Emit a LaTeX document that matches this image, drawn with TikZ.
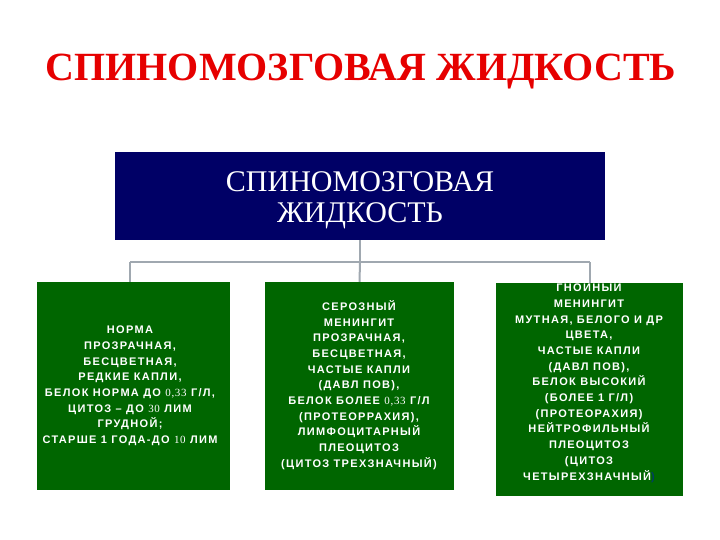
\documentclass[tikz,border=0pt]{standalone}
\usepackage{fontspec}
\setmainfont{Liberation Serif}
\setsansfont{Liberation Sans}
\newfontfamily\boxfont[LetterSpace=12]{Liberation Sans}
\newfontfamily\boxdigits[LetterSpace=6]{Liberation Serif}
\definecolor{titlered}{RGB}{230,0,0}
\definecolor{navy}{RGB}{0,0,102}
\definecolor{dgreen}{RGB}{0,102,0}
\definecolor{linegray}{RGB}{160,168,176}
\newcommand{\rmd}[1]{{\boxdigits\mdseries #1}}
\tikzset{
  greenbox/.style={draw=none, fill=dgreen, inner sep=0pt},
  boxtext/.style={text=white, align=center, inner sep=0pt,
    font=\boxfont\bfseries\fontsize{11}{15.7}\selectfont},
  conn/.style={draw=linegray, line width=2pt}
}
\begin{document}
\begin{tikzpicture}[x=1pt,y=-1pt]
\useasboundingbox (0,0) rectangle (720,540);
\node[text=titlered, font=\rmfamily\bfseries\fontsize{40}{44}\selectfont, inner sep=0pt] (title) at (361,72) {СПИНОМОЗГОВАЯ ЖИДКОСТЬ};
\node[fill=navy, minimum width=490pt, minimum height=88pt, inner sep=0pt] (top) at (360,196) {};
\node[text=white, align=center, inner sep=0pt, font=\rmfamily\fontsize{30}{31}\selectfont] (toptext) at (360,200) {СПИНОМОЗГОВАЯ\\ЖИДКОСТЬ};
\node[greenbox, minimum width=193pt, minimum height=208pt] (b1) at (133.5,386) {};
\node[greenbox, minimum width=189pt, minimum height=208pt] (b2) at (359.5,386) {};
\node[greenbox, minimum width=187pt, minimum height=213pt] (b3) at (589.5,389.5) {};
\coordinate (hub) at (360,262);
\draw[conn] (top.south) -- (hub);
\draw[conn] (130,262) -- (590,262);
\draw[conn] (130,262) -- (130,282);
\draw[conn] (hub) -- (b2.north);
\draw[conn] (590,262) -- (590,283);
\node[boxtext] (t1) at (130,386) {НОРМА\\ПРОЗРАЧНАЯ,\\БЕСЦВЕТНАЯ,\\РЕДКИЕ КАПЛИ,\\БЕЛОК НОРМА ДО \rmd{0,33} Г/Л,\\ЦИТОЗ – ДО \rmd{30} ЛИМ\\ГРУДНОЙ;\\СТАРШЕ 1 ГОДА-ДО \rmd{10} ЛИМ};
\node[boxtext] (t2) at (359,385) {СЕРОЗНЫЙ\\МЕНИНГИТ\\ПРОЗРАЧНАЯ,\\БЕСЦВЕТНАЯ,\\ЧАСТЫЕ КАПЛИ\\(ДАВЛ ПОВ),\\БЕЛОК БОЛЕЕ \rmd{0,33} Г/Л\\(ПРОТЕОРРАХИЯ),\\ЛИМФОЦИТАРНЫЙ\\ПЛЕОЦИТОЗ\\(ЦИТОЗ ТРЕХЗНАЧНЫЙ)};
\node[boxtext] (t3) at (589,382) {ГНОЙНЫЙ\\МЕНИНГИТ\\МУТНАЯ, БЕЛОГО И ДР\\ЦВЕТА,\\ЧАСТЫЕ КАПЛИ\\(ДАВЛ ПОВ),\\БЕЛОК ВЫСОКИЙ\\(БОЛЕЕ 1 Г/Л)\\(ПРОТЕОРАХИЯ)\\НЕЙТРОФИЛЬНЫЙ\\ПЛЕОЦИТОЗ\\(ЦИТОЗ\\ЧЕТЫРЕХЗНАЧНЫЙ{\color{blue!40!dgreen})}};
\end{tikzpicture}
\end{document}
